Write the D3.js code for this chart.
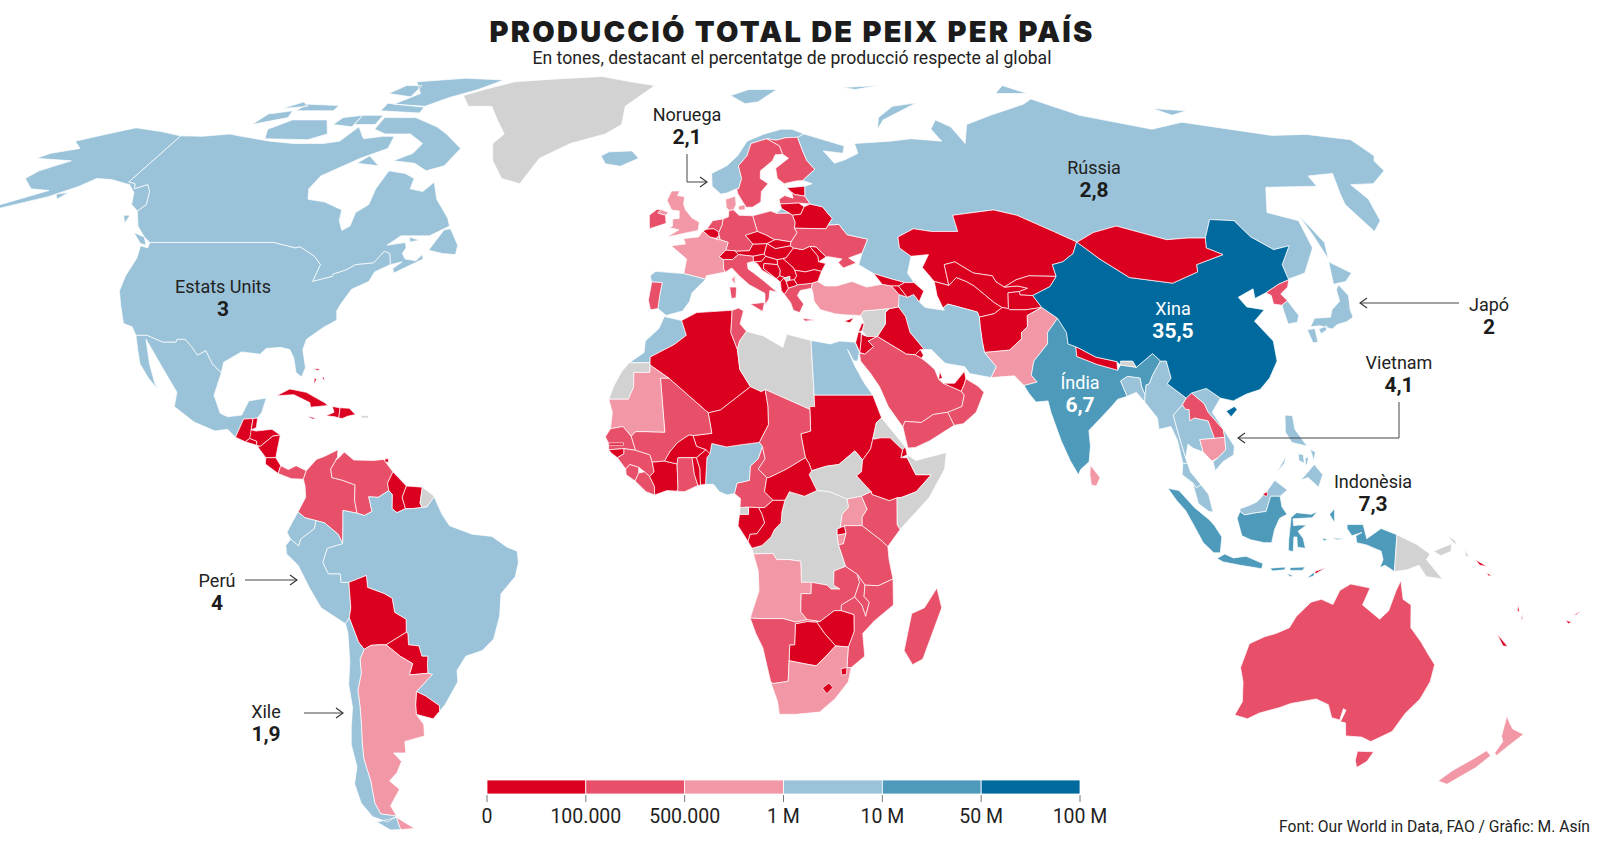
<!DOCTYPE html>
<html lang="ca"><head><meta charset="utf-8"><title>Producció total de peix per país</title>
<script src="https://cdn.jsdelivr.net/npm/d3@7/dist/d3.min.js"></script>
<style>html,body{margin:0;padding:0;background:#fff}svg{display:block}text{font-family:Roboto,"Noto Sans",sans-serif;fill:#222}</style>
</head><body><svg id="c" width="1600" height="843"></svg>
<script>
const legendLabels=["0","100.000","500.000","1 M","10 M","50 M","100 M"];
const binColors=["#dc0020","#e84f68","#f297a5","#9ac3d9","#4e9abb","#006a9e"];
const noDataColor="#d2d2d2";
const noData=["Greenland","Libya","WSahara","Syria","SouthSudan","Eritrea","Somalia","DRC","EqGuinea","Bhutan","PNG","Kosovo","FrGuiana","PuertoRico"];
const bin0=["Guatemala","Belize","ElSalvador","Honduras","Nicaragua","CostaRica","Cuba","Haiti","DomRep","Jamaica","Bahamas","Trinidad","Guyana","Suriname","Bolivia","Paraguay","Uruguay","Belgium","Luxembourg","Estonia","Lithuania","Belarus","Switzerland","Austria","Slovenia","Croatia","Bosnia","Serbia","Montenegro","Albania","Macedonia","Hungary","Slovakia","Czechia","Romania","Bulgaria","Moldova","Georgia","Armenia","Azerbaijan","Kazakhstan","Turkmenistan","Uzbekistan","Kyrgyzstan","Tajikistan","Afghanistan","Mongolia","Nepal","Iraq","Lebanon","Israel","Jordan","Cyprus","Kuwait","Qatar","UAE","Algeria","Niger","Sudan","Ethiopia","Djibouti","Gambia","GuineaBissau","IvoryCoast","BurkinaFaso","Togo","Benin","CAR","Congo","Gabon","Rwanda","Zimbabwe","Botswana","Lesotho","Eswatini","Brunei","EastTimor","Solomon","Vanuatu","NewCaledonia","Fiji"];
const bin1=["Panama","Colombia","Venezuela","Sweden","Finland","Latvia","Poland","Germany","Netherlands","Ireland","Portugal","Italy","Greece","Ukraine","NorthKorea","Laos","Saudi","Oman","Yemen","Tunisia","Mali","Senegal","Guinea","SierraLeone","Liberia","Ghana","Chad","Cameroon","Kenya","Tanzania","Zambia","Malawi","Mozambique","Namibia","Madagascar","Australia"];
const bin2=["Argentina","France","UK","Denmark","Turkey","Pakistan","Cambodia","SriLanka","Mauritania","Uganda","Burundi","Angola","SouthAfrica","NewZealand"];
const bin3=["Canada","USA","Mexico","Ecuador","Peru","Brazil","Chile","Norway","Svalbard","Iceland","Spain","Russia","Iran","Egypt","Morocco","Nigeria","Myanmar","Bangladesh","Thailand","Vietnam","Malaysia","Philippines","SouthKorea","Japan"];
const bin4=["India","Indonesia"];
const bin5=["China"];
const outlines={
Canada:[[-141,69.6,-135,69.5,-128,70,-125,69.6,-115,68.5,-108,68,-100,68,-96,68.5,-94,71.5,-90,69,-85,69.5,-82,69.5,-81.5,67,-87,65,-94,61.5,-94.5,59,-92.5,57,-88,56.5,-82.5,55,-82,53,-80.5,51.2,-79,52,-79,54.5,-77,56,-78,59,-77.5,62.5,-73,62,-70,61,-69.5,59,-66,58.5,-64.5,60.3,-61.5,57,-57,53.5,-56,52,-60,50.2,-66.5,50.2,-69,48.5,-65,49,-64.5,48,-65,47,-64,46,-61.5,45.7,-60.5,46.8,-60,46,-63,44.7,-65.7,43.5,-66.2,44.3,-64.5,45.5,-67,45,-67.8,47,-69.2,47.4,-70.8,45.3,-74.7,45,-76.5,44,-79,43.3,-79,42.9,-83,42,-82.5,45,-84.5,46.5,-88.5,48.2,-89.5,48,-95,49,-123,49,-125,50,-128,52,-130.5,54.8,-130,56,-133,58.5,-135.5,59.8,-137.5,59,-139,60,-141,60.3],
[-128,50.8,-125,50,-123.5,48.5,-125,48.8],[-133,54,-131.5,54,-131.5,52.5],[-59.3,47.6,-57,51.3,-55.6,51.5,-53,48.5,-53,46.8,-56,47],[-125,72,-117,73.5,-118,75,-124,74.3],[-117,69,-105,68.8,-101,70,-105,73,-115,73,-119,71],[-117,75,-106,75,-106,76.2,-116,76.5],[-80,73.5,-72,71.5,-68,70,-62,67,-64,63.5,-68,62.5,-72,64,-78,64.5,-74,66,-73,68,-78,70,-85,70,-89,71,-89,73.5],[-92,75,-80,74.5,-80,75.8,-92,76.7],[-96,72,-90,72,-90,74,-96,74],[-102,72,-96,71.5,-96,74,-101,73.5],[-90,76.5,-80,76,-75,78,-68,80,-62,82.5,-75,83,-90,82,-85,79],[-95,79,-87,78.2,-87,81,-92,81],[-87,64,-81,63.5,-85,65.5],[-64.5,50,-62,49.4,-64,49.1],[-122,75.5,-115,76,-118,77]],
USA:[[-123,49,-95,49,-89.5,48,-88.5,48.2,-84.5,46.5,-82.5,45,-83,42,-79,42.9,-79,43.3,-76.5,44,-74.7,45,-70.8,45.3,-69.2,47.4,-67.8,47,-67,45,-70,43.7,-70.7,42,-74,40.6,-75.5,38,-76,36.8,-75.5,35.2,-78,33.9,-81,31.8,-81.3,30,-80,26.8,-80.5,25.2,-81.8,26,-82.8,28.5,-84,30,-86,30.4,-89,30.2,-90,29.2,-94,29.6,-97.2,27.8,-97.2,25.9,-99.5,27.5,-101.5,29.8,-103,29,-104.7,30.5,-106.5,31.8,-108.2,31.8,-108.2,31.3,-111,31.3,-114.8,32.5,-117.1,32.5,-118.5,34,-120.6,34.6,-122.5,37.5,-124.3,40.3,-124.5,43,-124,46.2,-124.7,48.4,-122.8,48],
[-141,69.6,-148,70.5,-156.5,71.3,-162,70,-168,68.5,-164,67,-170,66,-172,65,-162,64.5,-167,62.5,-168,61,-163,59,-158,58.7,-166,55.5,-171,53.5,-156,57.5,-152,59.5,-150,61,-146,60.8,-140,59.8,-136.5,58.3,-133.5,56,-130.5,54.8,-130,56,-133,58.5,-135.5,59.8,-137.5,59,-139,60,-141,60.3],[-155,58,-152.5,58.3,-153,57]],
Mexico:[[-117.1,32.5,-114.8,32.5,-111,31.3,-108.2,31.3,-108.2,31.8,-106.5,31.8,-104.7,30.5,-103,29,-101.5,29.8,-99.5,27.5,-97.2,25.9,-97.8,22,-95.9,18.8,-94.3,18.2,-91.5,18.5,-90.5,21,-87,21.5,-87.5,19,-88.2,18,-89.1,17.9,-91,17.8,-92.2,14.6,-94,16,-96.5,15.7,-101,17.3,-105.5,20,-105.5,22.5,-109.3,26.5,-112.8,30,-114.7,31.8,-112.5,27.5,-110.5,24.2,-109.5,23,-112,25,-114.5,27.5,-115.8,30]],
Guatemala:[[-92.2,14.6,-91,17.8,-89.1,17.9,-89.2,15.9,-88.2,15.7,-89.3,14.4,-90.1,13.8]],Belize:[[-89.1,17.9,-88.2,18,-88.2,16.3,-89.2,15.9]],ElSalvador:[[-90.1,13.8,-89.3,14.4,-87.8,13.9,-87.8,13.2]],Honduras:[[-89.2,15.9,-88.2,15.7,-85,16,-83.2,15,-84.7,14.8,-87,13,-87.8,13.2,-87.8,13.9,-89.3,14.4]],Nicaragua:[[-83.2,15,-83.7,11,-85.7,11,-87.6,13,-87,13,-84.7,14.8]],CostaRica:[[-85.7,11,-83.7,11,-82.6,9.6,-83,8.2,-85.7,9.9]],Panama:[[-83,8.2,-82.6,9.6,-81,8.9,-79.5,9.6,-77.4,8.7,-77.9,7.2,-80.3,7.3,-81.5,7.7]],
Cuba:[[-85,21.9,-82.5,23.1,-79,22.5,-75,20.7,-74.2,20.2,-77.7,19.9,-78,20.7,-81.5,22.1]],Haiti:[[-74.4,18.4,-72.5,18.2,-71.7,18,-71.7,19.8,-73.3,20,-72.8,19]],DomRep:[[-71.7,18,-71.7,19.8,-69.8,19.7,-68.4,18.6,-70,18.3,-71,17.9]],Jamaica:[[-78.3,18.3,-76.3,18,-77,17.8]],PuertoRico:[[-67.2,18.4,-65.7,18.4,-65.7,18,-67.2,18]],Bahamas:[[-78.5,26.7,-77,26.6,-77.3,26.3],[-77.8,25,-77.3,24.8,-77.7,23.9],[-76,25.3,-75.5,24.5,-76.2,25]],Trinidad:[[-61.8,10.2,-61,10.2,-61,10.8,-61.7,10.8]],
Colombia:[[-77.9,7.2,-77.4,8.7,-75.5,10.7,-74,11.2,-71.3,12.4,-71.3,11,-72.5,9,-72.2,7.5,-70,7,-67.5,6.2,-67.5,3.5,-67,1.2,-69.8,1.7,-69.8,-0.5,-69.9,-4.2,-70.8,-2.5,-73.5,-0.5,-75.2,-0.1,-77.4,0.4,-78.8,1.4,-77.3,4,-77.5,6]],
Venezuela:[[-71.3,11,-71.6,10.6,-71,11,-70,12,-68,10.6,-64,10.5,-62,10.7,-60,8.5,-61,6.5,-60.7,5.2,-62.8,4,-64.7,4.1,-64,1.5,-65.5,0.8,-67,1.2,-67.5,3.5,-67.5,6.2,-70,7,-72.2,7.5,-72.5,9]],
Guyana:[[-60,8.5,-57.2,6,-58,4,-57.3,2,-59,1.3,-60,2,-60,4.5,-60.7,5.2,-61,6.5]],Suriname:[[-57.2,6,-54,5.8,-54.4,3,-54,2.2,-56,2,-57.3,2,-58,4]],FrGuiana:[[-54,5.8,-52,4.5,-51.6,4.1,-53,2.3,-54,2.2,-54.4,3]],
Ecuador:[[-78.8,1.4,-77.4,0.4,-75.2,-0.1,-75.5,-1.5,-78.3,-3.4,-78.7,-4.6,-80.3,-3.4,-81,-2.2,-80,-0.5]],
Peru:[[-81.3,-4.5,-80.3,-3.4,-78.7,-4.6,-78.3,-3.4,-75.5,-1.5,-75.2,-0.1,-73.5,-0.5,-70.8,-2.5,-69.9,-4.2,-73,-5,-74,-7.5,-73,-9.5,-70.6,-9.5,-70.6,-11,-69,-11,-69,-15.5,-69.5,-17.3,-70.4,-18.3,-75,-15.5,-77,-12,-79,-8,-81.2,-6]],
Brazil:[[-51.6,4.1,-50,1,-48.5,-1,-44,-2.5,-40,-2.9,-37,-4.8,-35,-5.5,-34.8,-7.5,-35.5,-10,-38.5,-13,-39,-17,-40.5,-21,-43,-23,-46.5,-24,-48.6,-26.5,-48.7,-28.5,-52,-32.5,-53.4,-33.7,-53.2,-32.7,-55.8,-31,-57.6,-30.2,-53.8,-27.2,-54.7,-27,-54.6,-25.6,-54.3,-24,-55.5,-24,-55.9,-22.2,-58,-22,-57.9,-20,-58.2,-19.8,-58,-17.5,-60.2,-16.3,-60.5,-13.8,-62,-13,-65.3,-11.9,-65.4,-9.8,-69,-11,-70.6,-11,-70.6,-9.5,-73,-9.5,-74,-7.5,-73,-5,-69.9,-4.2,-69.8,-0.5,-69.8,1.7,-67,1.2,-65.5,0.8,-64,1.5,-64.7,4.1,-62.8,4,-60.7,5.2,-60,4.5,-60,2,-59,1.3,-57.3,2,-56,2,-54,2.2,-53,2.3]],
Bolivia:[[-69,-11,-65.4,-9.8,-65.3,-11.9,-62,-13,-60.5,-13.8,-60.2,-16.3,-58,-17.5,-58.2,-19.8,-62.6,-22,-64,-22,-65.7,-22.1,-67.2,-22.8,-68.2,-21.5,-69.5,-17.3,-69,-15.5]],
Paraguay:[[-58.2,-19.8,-57.9,-20,-58,-22,-55.9,-22.2,-55.5,-24,-54.3,-24,-54.6,-25.6,-54.7,-27,-58.6,-27.3,-57.6,-25.3,-60,-24,-62.6,-22]],
Uruguay:[[-57.6,-30.2,-55.8,-31,-53.2,-32.7,-53.4,-33.7,-55,-35,-58.4,-34.2,-58.2,-32.5]],
Argentina:[[-65.7,-22.1,-64,-22,-62.6,-22,-60,-24,-57.6,-25.3,-58.6,-27.3,-54.7,-27,-53.8,-27.2,-57.6,-30.2,-58.2,-32.5,-58.4,-34.2,-57.2,-36,-57.5,-38,-62,-39,-62.3,-41,-65,-41,-63.7,-42.5,-65.3,-44.5,-67.5,-46,-65.8,-47.5,-69,-50.5,-68.4,-52.4,-71.9,-52,-72.4,-50,-71.7,-46,-71.8,-42,-71.2,-39,-70.5,-36,-70,-33,-69.8,-30,-68.5,-27,-68.3,-24.5,-67.2,-22.8],[-68.6,-52.6,-65.2,-54.7,-68.6,-54.9]],
Chile:[[-69.5,-17.3,-68.2,-21.5,-67.2,-22.8,-68.3,-24.5,-68.5,-27,-69.8,-30,-70,-33,-70.5,-36,-71.2,-39,-71.8,-42,-71.7,-46,-72.4,-50,-71.9,-52,-68.4,-52.4,-71,-53.5,-74,-52.5,-75.5,-50,-75.5,-46.5,-73.8,-43.5,-73.7,-39.5,-72.8,-36.5,-71.6,-33,-71.5,-29,-70.5,-25,-70.1,-20,-70.4,-18.3],[-68.6,-52.6,-68.6,-54.9,-71,-55,-73.5,-53.5,-70.5,-53]],
Greenland:[[-71,78.5,-66,80,-58,82,-45,82.8,-30,83.5,-20,82,-12,81,-20,76,-20,72,-24,70,-33,68,-40,65,-43,60,-48,61,-52,64.5,-54,68,-52,70,-56,73,-60,76,-67,76]],
Iceland:[[-24,65.5,-22,66.3,-16,66.5,-14,65,-18.5,63.4,-22.5,63.9]],
Norway:[[7,58,8.5,58.2,11,59,11.5,59,12.5,61,12,63.5,14.5,65.5,16,68,20.5,69,23,68.7,25.7,69.2,29,69.3,31,70,28,71,25,71,20,70,15,68.5,12,65.5,9,63.5,5,62,5,59.5]],Svalbard:[[12,78.5,18,80,27,80,20,77,16,76.6]],
Sweden:[[11,59,11.2,58,12.8,55.5,14.3,55.5,16.5,56.5,17,58.5,19,60,17.2,61,17.5,62.5,21,64.5,22,65.7,24,65.8,23.6,67.5,20.5,69,16,68,14.5,65.5,12,63.5,12.5,61,11.5,59]],
Finland:[[24,65.8,25.3,65,21.5,63,21.5,61,23,60,26,60.5,27.8,60.6,31.5,62.8,30,64.5,29.5,66.5,29,69.3,25.7,69.2,23,68.7,20.5,69,23.6,67.5]],
Denmark:[[8.1,57,10.5,57.6,10.5,56,9.8,55,8.7,54.9,8.1,55.5],[11,55.7,12.6,56,12.5,55,11,55]],
Estonia:[[23.5,59.2,28,59.5,27.4,57.6,25,57.9,24.4,58.3]],Latvia:[[21,57,22.5,57.7,24.4,57.2,24.4,58.3,25,57.9,27.4,57.6,28.2,56.1,25.5,56.3,21,56.1]],Lithuania:[[21,56.1,25.5,56.3,26.6,55.6,25.5,54.2,23.5,54,22.8,54.4,21.2,55.2]],
Belarus:[[23.5,54,25.5,54.2,26.6,55.6,28.2,56.1,30.9,55.6,32.7,53.4,31.5,52.2,30.9,51.5,23.6,51.6,23.9,52.7]],
Poland:[[14.2,53.9,18.5,54.8,19.7,54.4,22.8,54.4,23.5,54,23.9,52.7,23.6,51.6,24.1,50.8,22.5,49.1,19.5,49.5,18.8,49.5,16.8,50.4,15,51,14.7,52]],
Germany:[[8.7,54.9,9.8,55,11,54,14.2,53.9,14.7,52,15,51,12.2,50.3,13.8,48.7,12.9,47.5,10,47.4,9.6,47.5,7.6,47.6,8.2,49,6.4,49.5,6.1,50.8,7,52.3,7.2,53.3,8.5,53.7]],
Netherlands:[[3.4,51.4,4.8,53,7.2,53.3,7,52.3,6.1,50.8,5.8,51.1,5,51.5]],Belgium:[[2.5,51.1,3.4,51.4,5,51.5,5.8,51.1,6.1,50.8,6.1,49.8,5,49.8,4,50]],Luxembourg:[[5.8,50.1,6.4,49.5,5.8,49.5]],
France:[[2.5,51.1,4,50,5,49.8,5.8,49.5,6.4,49.5,8.2,49,7.6,47.6,6.1,46.4,7,45.9,7,44.2,7.4,43.7,3.1,43,3,42.4,-1.8,43.4,-1.2,46,-4.7,48.4,-1.5,48.7,-1.9,49.7,1.5,50],[8.6,42.4,9.5,43,9.4,41.4]],
Switzerland:[[6.1,46.4,7.6,47.6,9.6,47.5,10.4,46.8,9,45.9,7,45.9]],Austria:[[9.6,47.5,10,47.4,12.9,47.5,13.8,48.7,17,48.8,16.2,46.9,13.7,46.5,10.4,46.8]],
Italy:[[7,45.9,9,45.9,10.4,46.8,13.7,46.5,13.7,45.6,12.3,45.3,12.4,44.2,13.6,43.5,16,41.9,18.5,40.1,16.9,40.4,16.6,38.9,15.7,37.9,15.8,39.9,12.5,41.4,10.5,42.9,8.8,44.4,7.4,43.7,7,44.2],[12.5,38,15.6,38.3,15.1,36.7],[8.2,41,9.7,41,9.5,39.1,8.5,39]],
Slovenia:[[13.7,46.5,16.2,46.9,16.5,46.5,15.5,45.6,13.7,45.5]],Croatia:[[13.7,45.5,15.5,45.6,16.5,46.5,19,45.9,19,45,16,45.2,15.8,44.3,18.5,42.5,15.5,44,14.5,45.2]],Bosnia:[[16,45.2,19,45,19.5,44,19.3,43,18.5,42.5,15.8,44.3]],
Serbia:[[19,45.9,20.3,46.1,22.4,44.5,22.7,44,23,43,22.4,42.3,21.4,42.2,21.5,42.9,20.1,42.6,20.3,42.7,19.3,43,19.5,44,19,45]],Montenegro:[[18.5,42.5,19.3,43,20.3,42.7,19.3,41.9]],Kosovo:[[20.1,42.6,21.5,42.9,21.4,42.2,20.6,42]],Albania:[[19.3,41.9,20.1,42.6,20.6,42,21,40.8,20,39.7,19.4,40.4]],Macedonia:[[20.6,42,21.4,42.2,22.4,42.3,23,41.4,22.9,41.3,21,40.8]],
Greece:[[20,39.7,21,40.8,22.9,41.3,23,41.4,26.3,41.7,26,40.8,23.5,40.4,22.8,39.5,24,38,23,36.5,21.7,36.9,21.2,38.3],[23.5,35.5,26.3,35.2,24,35]],
Hungary:[[16.2,46.9,17,48.8,18.8,47.9,22.2,48.4,22.9,48,21,46.2,20.3,46.1,19,45.9,16.5,46.5]],Slovakia:[[17,48.8,18.8,49.5,19.5,49.5,22.5,49.1,22.2,48.4,18.8,47.9]],Czechia:[[12.2,50.3,15,51,16.8,50.4,18.8,49.5,17,48.8,13.8,48.7]],
Romania:[[22.9,48,24.9,47.7,26.6,48.3,28.2,46.5,28.2,45.5,29.7,45.2,28.6,43.8,27,44.1,25,43.7,22.7,44,22.4,44.5,20.3,46.1,21,46.2]],Bulgaria:[[22.7,44,25,43.7,27,44.1,28.6,43.8,27.5,42,26.3,41.7,23,41.4,22.4,42.3,23,43]],Moldova:[[26.6,48.3,28.2,46.5,28.2,45.5,30,46.4,28,48.2]],
Ukraine:[[24.1,50.8,23.6,51.6,30.9,51.5,31.5,52.2,34,52.3,35.5,50.4,40,49.6,38.2,47.1,35,46.2,36.5,45.3,33.5,44.4,32.5,45.4,33.5,46,30.7,46.4,30,46.4,28,48.2,26.6,48.3,24.9,47.7,22.9,48,22.2,48.4,22.5,49.1]],
UK:[[-5.7,50,1.4,51.2,1.7,52.7,0,53.5,-1.5,55,-2,56,-1.8,57.5,-3.5,57.7,-3,58.6,-5,58.6,-6,56.8,-4.8,55,-3,54.8,-3,53.4,-4.5,53.3,-4.5,52,-5.2,51.7,-3,51.3],[-7.3,55.1,-5.5,54.5,-6.2,54,-8,54.4]],Ireland:[[-8,54.4,-6.2,54,-6,52.5,-9.8,51.5,-10,54,-8.3,55.1,-7.3,55.1]],
Spain:[[-1.8,43.4,3,42.4,0,40,-0.5,38.5,-2,36.8,-5.5,36,-7.3,37.2,-7,39.5,-6.5,41.8,-8.8,41.9,-9.2,43,-8,43.8]],Portugal:[[-8.8,41.9,-6.5,41.8,-7,39.5,-7.3,37.2,-8.9,37,-9.4,38.7]],
Russia:[[31,70,33,69.5,41,67.5,40,66,35,66.5,37,64,40,64.7,44,66,44,68,54,68.5,60,69,68,68.5,67,71,70,73,73,71.5,74,68,78,72,87,74,100,76.5,104,77.7,113,74,129,71,140,72.5,160,69.7,170,69.9,180,68.8,179.9,65.5,178,64.5,177,62.5,170,60,164,59.8,163,57,160,53,156.7,51,155.6,56,158,58,163,62,156,61.5,155,59.5,142,59.3,135,54.5,141,53,140,48,135,43.5,131,42.5,130.7,42.3,131,45,135,48.4,131,47.7,127.5,50,126,53,120.5,53.2,117,49.8,113,49.8,108,49.5,98,52,92,50.8,87.8,49.2,87.3,49.1,83,51,76,54,71,55,61,54,61,51,55,51,51,51.5,47,50,46.8,48,49,46.5,47.5,43.5,48.5,41.8,46.5,41.8,43.5,42.5,40,43.4,37,45,38.2,47.1,40,49.6,35.5,50.4,34,52.3,31.5,52.2,32.7,53.4,30.9,55.6,28.2,56.1,27.4,57.6,28,59.5,30,60,27.8,60.6,31.5,62.8,30,64.5,29.5,66.5,29,69.3],[19.7,54.4,22.8,54.4,21.2,55.2],[142,54,143.5,49,142,46,142,50],[52,71,55,73,68,76.8,60,76,54,73.5],[137,75.5,146,75,140,74],[95,79,105,79,100,81],[48,80.5,60,81,52,80]],
Kazakhstan:[[46.8,48,47,50,51,51.5,55,51,61,51,61,54,71,55,76,54,83,51,87.3,49.1,85.5,47,82.5,45.5,80,45,80,42.9,74,43,71,42.3,68,41,66.5,41.9,66,43,62,43.5,58.5,45.5,56,45,56,41.3,53,42,51,44.5,53,46.8,49,46.5]],
Turkmenistan:[[53,42,56,41.3,58,42.7,60,42,61.5,41.2,65,38.3,66.5,37.4,64.5,36.3,61.2,35.7,61,36.6,55,38,53.8,37.3,53,39.5]],Uzbekistan:[[56,41.3,56,45,58.5,45.5,62,43.5,66,43,66.5,41.9,68,41,71,41.2,73,40.8,71,40.2,68.5,40,67.8,37.2,66.5,37.4,65,38.3,61.5,41.2,60,42,58,42.7]],Kyrgyzstan:[[71,42.3,74,43,80,42.9,78,41.1,73.7,39.5,71,39.6,71,40.2,73,40.8,71,41.2,68,41]],Tajikistan:[[68.5,40,71,40.2,71,39.6,73.7,39.5,75,37.4,71.5,37,68,37,67.8,37.2]],
Afghanistan:[[61.2,35.7,64.5,36.3,66.5,37.4,67.8,37.2,68,37,71.5,37,75,37.4,71.5,36,71,34,69.5,33,69.3,31.9,66.3,29.9,61,29.5,60.9,31.5,61,34]],
Pakistan:[[61,29.5,66.3,29.9,69.3,31.9,69.5,33,71,34,71.5,36,75,37.4,77.8,35.5,75,33,74.5,31,71,28,70,25.5,71,24.3,68.2,23.7,66.5,25.4,61.6,25.1,63,27]],
India:[[77.8,35.5,79,33,78.8,31,80.3,30.5,80.1,28.8,84,27.4,88,26.4,88.8,27.3,92,26.9,96,29.3,97.3,28,95,25.5,94,24,93.3,23.8,92.7,22,92.3,23.5,92.3,25,89.8,25.3,88.2,24.5,89,21.8,87,21.3,85,19.6,80.3,15.8,80.3,13,79.8,10.3,78,8.9,77.5,8,76,10.5,74.5,14,73,19,72.7,21,70.2,20.8,69,22.3,68.2,23.7,71,24.3,70,25.5,71,28,74.5,31,75,33]],
Nepal:[[80.3,30.5,81.2,30.1,84,28.7,88.2,27.9,88,26.4,84,27.4,80.1,28.8]],Bhutan:[[88.8,27.3,89,28,91.5,28,92,26.9]],Bangladesh:[[88.2,24.5,89.8,25.3,92.3,25,92.3,23.5,92.7,22,92.4,20.8,91,22.5,89,21.8]],
Myanmar:[[92.4,20.8,92.7,22,93.3,23.8,94,24,95,25.5,97.3,28,98.5,28,98.7,25,97.7,24,101,21.5,100,20.3,97.8,18.5,98.3,15.3,99,12,99.6,10,98.6,10,98,14,97,16.5,94.5,16,94.5,18]],
Thailand:[[97.8,18.5,100,20.3,100.5,19.5,101.2,19.5,101,17.5,102,18,104.7,17.5,105.5,14.4,102.5,14.2,102.9,12,100.9,12.7,100,13.4,99.3,11,100,8.5,102,6.2,101,5.7,100.3,6.6,98.3,8,98.6,10,99.6,10,99,12,98.3,15.3]],
Laos:[[100.5,19.5,100,20.3,101,21.5,102.3,22.4,104.5,20.5,105,19,107.5,16,107.6,14.6,105.5,14.4,104.7,17.5,102,18,101,17.5,101.2,19.5]],Cambodia:[[102.5,14.2,105.5,14.4,107.6,14.6,107.5,12.4,105.8,11,104.5,10.4,102.9,12]],
Vietnam:[[102.3,22.4,105.5,23.2,108,21.5,105.8,19,107,17,109.3,13,109,11.5,106.7,10.3,105,8.7,104.7,10.3,105.8,11,107.5,12.4,107.6,14.6,107.5,16,105,19,104.5,20.5]],
China:[[73.7,39.5,78,41.1,80,42.9,80,45,82.5,45.5,85.5,47,87.3,49.1,91,46,96,42.7,105,41.7,111.5,43.7,112,45,119,46.8,116,48,117,49.8,120.5,53.2,126,53,127.5,50,131,47.7,135,48.4,131,45,130.7,42.3,128,41.5,124.4,40,121.5,39,122,40.7,118,39.2,119,37.5,122.5,37,119.5,35,122,31.5,121.5,28,119,25,116.5,23,113.5,22.2,110.5,21,108,21.5,105.5,23.2,102.3,22.4,101,21.5,97.7,24,98.7,25,98.5,28,97.3,28,96,29.3,92,26.9,91.5,28,89,28,88.8,27.3,88.2,27.9,84,28.7,81.2,30.1,80.3,30.5,78.8,31,79,33,77.8,35.5,75,37.4],[108.7,19.2,110.5,20,111,19.5,109.5,18.2]],
Mongolia:[[87.8,49.2,92,50.8,98,52,108,49.5,113,49.8,117,49.8,116,48,119,46.8,112,45,111.5,43.7,105,41.7,96,42.7,91,46,87.3,49.1]],
NorthKorea:[[124.4,40,128,41.5,130.7,42.3,129.7,41,127.5,39.8,128.3,38.6,126.7,37.8,125,38,125.3,39.5]],SouthKorea:[[126.7,37.8,128.3,38.6,129.4,36,128.5,34.8,126.4,34.5,126.6,37]],
Japan:[[130.9,34,132.5,35.5,136,35.7,137,37,139.5,38.5,140,40.5,141,41.4,142,39.5,140.9,37,140.8,35.7,139,34.9,136.8,34.4,135.3,33.6,133,34.2],[140,41.5,141.7,45.5,145.3,43.5,143,42],[130,33.5,131.7,33.7,131.3,31.3,130.2,31.2],[132.5,33.6,134.5,34.2,134,33.4,132.6,32.8]],
Philippines:[[120.5,18.5,122,18.4,122,16,124,13,121,13.7,120,15.5],[122,7,125,9.8,126.5,8,125.5,5.8,123.5,7.5],[122,11.7,123,11.5,123,10,122,10.5],[124.5,12.5,125.5,12,125,10.5],[117.3,8.4,119.5,11.3,119,10],[123.3,11,124,11,123.6,10,123.2,9.5]],
Malaysia:[[100.3,6.6,101,5.7,102,6.2,103.4,4.5,104.2,1.4,103.4,1.5,101.3,2.9],[109.6,2,111.3,2.5,113,3.2,115,5,116.8,7,119.2,5.3,117.7,4.2,115.8,4.2,114.8,1.5,113,1.3,110.5,0.9,109.6,1.5]],Brunei:[[114.2,4.6,115.3,5,115,4.1]],
Indonesia:[[109.6,1.5,110.5,0.9,113,1.3,114.8,1.5,115.8,4.2,117.7,4.2,118,2.3,119,1,117.5,0.3,116.5,-1.7,116,-4,114.5,-4,111.8,-3.5,110,-2.8,109,0.3],[95.3,5.6,97.5,5.2,100.5,2.2,103.5,0,104.5,-1,106,-3,105.8,-5.8,104.5,-5.8,102.3,-4,100.4,-1,98.7,1.7,97,3.4],[105.2,-6.8,106.7,-6,108.5,-6.7,111,-6.4,114.5,-7.7,114.3,-8.6,110,-8,106.5,-7.4],[116,-8.5,119,-8.3,119,-8.8,116.5,-9],[120,-8.4,123,-8.3,122.5,-8.9,120,-8.9],[119.5,-9.4,120.8,-9.9,120.1,-10],[123.5,-10.3,125,-9.1,124.9,-9.9],[119.4,-5.4,120.4,-5.6,120.4,-3,121,-3,121.2,-4.8,122.8,-5,122.3,-3.3,121.2,-2,122.9,-0.9,121.3,-0.9,120.3,-1,120.2,0.2,124,0.4,125.1,1.5,123.8,1,120.9,1.3,119.8,0.5,119.4,-3.4],[127.5,1,128.5,2,128.5,-0.5,128,0.2],[128,-3.2,130.8,-3.3,129,-3.5],[126,-3.2,127.2,-3.4,126.5,-3.7],[131,-0.8,134.2,-0.8,135,-3.3,137.8,-1.5,141,-2.6,141,-9.1,139,-8,138,-8.4,138.5,-7,138,-5.5,135,-4.4,133,-4,132.8,-2.8,134,-2.2,132,-2.8,131,-1.5]],
EastTimor:[[125,-9.1,127.3,-8.4,125.2,-9.5]],
PNG:[[141,-2.6,145,-4.3,147.8,-6,147.2,-7,150.8,-10.4,147.5,-10,145.8,-8,143.5,-8.8,141,-9.1],[148.5,-5.5,152,-4.2,152,-5.5,150,-6.3],[151,-2.7,153,-4.5,152.7,-3.6],[154.7,-5.2,155.8,-6.6,155,-6.3]],
Solomon:[[157,-7,159.5,-8.2,158,-8],[160,-8.5,161,-9.8,160.5,-9.2],[159.5,-9.3,160.6,-9.8,160,-9.9]],Vanuatu:[[167,-15,167.5,-16.2,167,-16],[168.2,-16.5,168.5,-17.5,168.2,-17.5]],NewCaledonia:[[164,-20,167,-22.3,166,-22.2]],Fiji:[[177.3,-17.7,178.6,-18,178,-18.3],[178.6,-16.8,179.9,-16,179.2,-16.7]],
SriLanka:[[80,9.7,81.8,7.5,81,6,80,6.2,79.8,8]],
Iran:[[44.5,39.7,44.8,39.7,46.5,39.2,48,39.7,48.9,38.4,50,37.4,54,36.9,53.8,37.3,55,38,61,36.6,61.2,35.7,61,34,60.9,31.5,61,29.5,63,27,61.6,25.1,57.3,25.8,56.5,27,52.5,27.6,50,30,48.5,30,47.7,31,46,33,45.5,35.8,44.3,37.5]],
Iraq:[[42.3,37.2,44.3,37.5,45.5,35.8,46,33,47.7,31,48.5,30,47.7,30,46.5,29.1,44.7,29.2,39,32.3,41,34.5,41.3,36.5]],Syria:[[36,36,36.7,36.8,42.3,37.2,41.3,36.5,41,34.5,39,32.3,36.8,32.3,35.9,33.3,36.5,34.6]],
Turkey:[[26.3,41.7,27.5,42,29,41.2,31.5,41.2,35,42,38,41,41.5,41.5,43.5,41.2,44.8,39.7,44.3,37.5,42.3,37.2,36.7,36.8,36,36,32.5,36.1,30.5,36.3,27.5,37,26.3,38.5,26.2,40,26,40.8]],
Georgia:[[40,43.4,43.5,42.5,46.5,41.8,45,41.2,43.5,41.2,41.5,41.5]],Armenia:[[43.5,41.2,45,41.2,46.5,39.2,44.8,39.7]],Azerbaijan:[[45,41.2,46.5,41.8,48.5,41.8,50.3,40.3,48.9,38.4,48,39.7,46.5,39.2]],
Lebanon:[[35.1,33.1,35.9,33.3,36.5,34.6,36,34.6]],Israel:[[34.3,31.2,35.1,33.1,35.7,33,35.5,31.5,35,29.5]],Jordan:[[35,29.5,35.5,31.5,35.7,32.7,36.8,32.3,39,32.3,37,31.5,38,30.5,36,29.2]],Cyprus:[[32.3,35,34.5,35.6,33.5,34.7]],
Saudi:[[34.9,29.4,36,29.2,38,30.5,37,31.5,39,32.3,44.7,29.2,46.5,29.1,47.7,28.5,48.8,27.7,50.2,26.5,50.8,24.8,51.6,24.1,55.2,22.7,55.7,22,55,20,52,19,49,18.6,46.5,17.2,43.2,17.4,42.7,16.4,40,20,38.5,23.5,36.8,25.9,35,28]],Kuwait:[[46.5,29.1,47.7,30,48.2,29,47.7,28.5]],Qatar:[[50.8,24.8,51.2,26.2,51.6,25]],UAE:[[51.6,24.1,54,24.1,56.3,26.2,56.4,24.9,56,24,55.2,22.7]],Oman:[[55.2,22.7,56,24,56.4,24.9,58.7,23.6,59.8,22.5,57.8,19,55,17,53.1,16.7,52,19,55,20,55.7,22]],Yemen:[[42.7,16.4,43.2,17.4,46.5,17.2,49,18.6,52,19,53.1,16.7,48,14,45,12.8,43.5,12.7]],
Morocco:[[-5.9,35.8,-2.2,35.1,-1.2,32.5,-3.7,30.9,-8.7,28.7,-8.7,27.7,-13,27.7,-10,29.5,-9.8,31.5,-7,33.7]],WSahara:[[-13,27.7,-8.7,27.7,-8.7,26,-12,26,-12,23.4,-13,21.3,-17,21.3,-16,23.7,-14.5,26.2]],
Algeria:[[-2.2,35.1,1,36.5,8.6,36.9,8.2,33,9.5,30,9.9,26.5,12,23.5,5.8,19.4,3.3,18.9,-4.8,25,-8.7,27.3,-8.7,28.7,-3.7,30.9,-1.2,32.5]],Tunisia:[[8.6,36.9,10,37.3,11,36.8,10.2,34.5,11.5,33.2,10,31.5,9.5,30,8.2,33]],
Libya:[[11.5,33.2,15,32.4,19,30.4,20,32.7,25,31.6,25,20,24,20,24,19.5,15,23,14.2,22.6,12,23.5,9.9,26.5,9.5,30,10,31.5]],
Egypt:[[25,31.6,29,31,31,31.5,34.2,31.3,34.9,29.5,34.4,28,33.6,28,32.5,30,33.8,27,35.5,24,37,22,25,22]],
Sudan:[[25,22,37,22,38.5,18,37.4,17.2,36.5,14.3,36,12.6,34.3,10.6,32.8,12.2,29.5,9.8,27,9.5,24,8.7,23.5,10,22.8,11,22.4,13,22,15.2,24,15.7,24,19.5,24,20,25,20]],
SouthSudan:[[24,8.7,27,9.5,29.5,9.8,32.8,12.2,34.3,10.6,34,8.5,33,7.8,35.9,5,33.9,4.2,31,3.7,27.5,5,25,5.2,23.5,8]],Eritrea:[[36.5,14.3,37.4,17.2,38.5,18,43,12.9,42.4,12.4,40,14.5,38,14.5,37,14.3]],Djibouti:[[42.4,12.4,43,12.9,43.3,11.5,42,11]],
Ethiopia:[[36,12.6,36.5,14.3,37,14.3,38,14.5,40,14.5,42.4,12.4,42,11,43.3,11,44.9,8,48,8,44.9,5,42,4,41,3.9,39.5,3.4,36,4.5,35.9,5,33,7.8,34,8.5,34.3,10.6]],Somalia:[[43.3,11,43.3,11.5,45,10.5,51.2,11.9,50.7,9,47.5,4,41.6,-1.7,41,-0.8,41,3.9,42,4,44.9,5,48,8,44.9,8]],
Kenya:[[33.9,4.2,35.9,5,36,4.5,39.5,3.4,41,3.9,41,-0.8,41.6,-1.7,39.2,-4.7,37.7,-3.5,34,-1,34,0.5,35,1.9]],Uganda:[[31,3.7,33.9,4.2,35,1.9,34,0.5,34,-1,30.5,-1,29.6,-1.4,30,1,31.3,2.3]],Rwanda:[[29,-1.5,30.5,-1.1,30.8,-2.4,29,-2.7]],Burundi:[[29,-2.7,30.8,-2.4,30.3,-4.2,29.3,-4.4]],
Tanzania:[[30.5,-1,34,-1,37.7,-3.5,39.2,-4.7,39.5,-7,40.4,-10.4,37.5,-11.6,34.8,-11.5,33.2,-9.6,30.8,-8.2,29.3,-4.4,30.3,-4.2,30.8,-2.4]],
DRC:[[18.6,3.5,19.5,5,22.5,4.2,25,5.2,27.5,5,31,3.7,31.3,2.3,30,1,29.6,-1.4,29,-1.5,29,-2.7,29.3,-4.4,30.8,-8.2,28.5,-9,28.5,-11.5,29.8,-12.2,28,-12.2,27.2,-11.5,24,-11,22,-11,21.8,-7.3,19.5,-7,17,-7,16.2,-5.9,12.3,-6,12,-5,14,-4.5,15.8,-3,16.5,-1.7,17.8,-0.5,18,1.5]],
Congo:[[11.2,-3.8,12,-5,14,-4.5,15.8,-3,16.5,-1.7,17.8,-0.5,18,1.5,18.6,3.5,16.2,3.5,14.5,2.2,13.3,2.2,14,1,14.5,-0.5,13,-2.4,11.6,-2.5]],Gabon:[[9.5,1,11.3,1,11.3,2.3,13.3,2.2,14,1,14.5,-0.5,13,-2.4,11.6,-2.5,11.2,-3.8,9.2,-1]],EqGuinea:[[9.6,2.2,11.3,2.3,11.3,1,9.5,1]],
Cameroon:[[8.5,4.7,9,6.5,11.5,7,11.7,9.5,13.3,10.8,14.2,13,14.7,10.8,13.3,9,15,7.5,14.5,5,16.2,3.5,14.5,2.2,13.3,2.2,11.3,2.3,9.6,2.2,9.7,3.8]],
Nigeria:[[2.7,6.3,3,11,3.6,11.7,4,13.5,7,12.9,10,13.3,13.6,13.7,14.2,13,13.3,10.8,11.7,9.5,11.5,7,9,6.5,8.5,4.7,7,4.4,5.5,5,4.3,6.3]],
Niger:[[3.3,18.9,5.8,19.4,12,23.5,14.2,22.6,15,23,15.5,20,15.5,16.8,13.6,13.7,10,13.3,7,12.9,4,13.5,3.6,11.7,2.8,12.4,0.9,13,0.2,14.9,4,15.3]],
Chad:[[15,23,24,19.5,24,15.7,22,15.2,22.4,13,22.8,11,19,9,15.5,7.5,15,7.5,13.3,9,14.7,10.8,14.2,13,13.6,13.7,15.5,16.8,15.5,20]],CAR:[[14.5,5,15,7.5,15.5,7.5,19,9,22.8,11,23.5,10,24,8.7,23.5,8,25,5.2,22.5,4.2,19.5,5,18.6,3.5,16.2,3.5]],
Mali:[[-12.3,14.8,-11.4,15.6,-9.4,15.6,-5.5,15.5,-6.5,25,-4.8,25,3.3,18.9,4,15.3,0.2,14.9,-0.6,15,-2,14.2,-3,13.6,-4.5,12,-5.5,10.4,-8,10.2,-8.5,11.5,-11.4,12.3]],
Mauritania:[[-17,21.3,-13,21.3,-12,23.4,-12,26,-8.7,26,-8.7,27.3,-4.8,25,-6.5,25,-5.5,15.5,-9.4,15.6,-11.4,15.6,-12.3,14.8,-14,16.5,-16.5,16.1,-16.2,19]],
Senegal:[[-16.5,16.1,-14,16.5,-12.3,14.8,-11.4,12.3,-13.7,12.6,-16.8,12.4,-16.8,13.5,-17.5,14.7]],Gambia:[[-16.8,13.6,-13.8,13.6,-13.8,13.2,-16.8,13.2]],GuineaBissau:[[-16.8,12.4,-13.7,12.6,-13.7,11.7,-15,11,-16.2,11.8]],
Guinea:[[-15,11,-13.7,11.7,-13.7,12.6,-11.4,12.3,-8.5,11.5,-8,10.2,-7.6,8.5,-8.5,7.7,-9.5,8.5,-10.7,9.3,-12.5,9.8,-13.3,9]],SierraLeone:[[-13.3,9,-12.5,9.8,-10.7,9.3,-10.7,8.3,-11.4,6.9,-13.2,8]],Liberia:[[-11.4,6.9,-10.7,8.3,-9.5,8.5,-8.5,7.7,-7.5,5.9,-7.5,4.4,-9.2,5]],
IvoryCoast:[[-7.5,4.4,-7.5,5.9,-8.5,7.7,-7.6,8.5,-8,10.2,-5.5,10.4,-3,9.9,-2.8,5.6,-3,5.1,-5,5.2]],BurkinaFaso:[[-5.5,10.4,-4.5,12,-3,13.6,-2,14.2,-0.6,15,0.2,14.9,0.9,13,2.8,12.4,0.9,11,-2.8,11,-3,9.9]],
Ghana:[[-3,5.1,-2.8,5.6,-3,9.9,-2.8,11,0,11,0.5,8,1.2,6.1,-1.5,5]],Togo:[[0,11,0.9,11,1.6,9,1.7,6.2,1.2,6.1,0.5,8]],Benin:[[0.9,11,2.8,12.4,3.6,11.7,3,11,2.7,6.3,1.7,6.2,1.6,9]],
Angola:[[12.3,-6,16.2,-5.9,17,-7,19.5,-7,21.8,-7.3,22,-11,24,-11,24,-13,22,-13,22,-16.2,23.4,-17.6,21,-18,18.5,-17.4,14,-17.4,11.8,-17.3,13.5,-12.5,13.3,-9]],
Zambia:[[22,-13,24,-13,24,-11,27.2,-11.5,28,-12.2,29.8,-12.2,28.5,-11.5,28.5,-9,30.8,-8.2,33.2,-9.6,33.7,-11,32.8,-13.6,30.2,-15,30.2,-16,28.8,-16,26,-17.9,25.3,-17.8,23.4,-17.6,22,-16.2]],
Malawi:[[33.2,-9.6,34.8,-11.5,34.7,-13.5,35.8,-14.5,35.2,-17,34.3,-15,32.8,-13.6,33.7,-11]],Mozambique:[[34.8,-11.5,37.5,-11.6,40.4,-10.4,40.7,-15,37,-17.8,34.8,-20,35.5,-24,32.9,-26,32,-26,32,-22.4,33,-19.7,32.8,-16.7,30.2,-16,30.2,-15,32.8,-13.6,34.3,-15,35.2,-17,35.8,-14.5,34.7,-13.5]],
Zimbabwe:[[26,-17.9,28.8,-16,30.2,-16,32.8,-16.7,33,-19.7,32,-22.4,29.4,-22.2,27,-20,25.3,-18]],Botswana:[[21,-18.3,23.4,-17.9,25.3,-18,27,-20,29.4,-22.2,26.8,-24.7,25.6,-25.7,23,-25.3,20,-24.8,20,-22,21,-22]],
Namibia:[[11.8,-17.3,14,-17.4,18.5,-17.4,21,-18,23.4,-17.6,25.3,-17.8,25.3,-18,23.4,-17.9,21,-18.3,21,-22,20,-22,20,-28.4,17,-28.8,16.4,-28.6,14.5,-22.5,13,-20]],
SouthAfrica:[[16.4,-28.6,17,-28.8,20,-28.4,20,-24.8,23,-25.3,25.6,-25.7,26.8,-24.7,29.4,-22.2,32,-22.4,32,-26,32.9,-26,32.5,-28.5,30,-31.5,27,-33.8,22,-34.2,18.5,-34.2,18,-32]],Lesotho:[[27.2,-29.6,28.5,-28.7,29.4,-29.5,28.2,-30.6]],Eswatini:[[30.8,-26.2,32,-26,32,-27.2,31,-27.3]],
Madagascar:[[49.3,-12,50.5,-15.5,47.5,-24.5,45.5,-25.5,43.5,-23,44.5,-16.5,47,-15.5]],
Australia:[[114,-21.8,116.8,-20.6,119,-20,121.5,-19,122.5,-17,125,-14.5,127,-14,129.5,-14.9,130.5,-12.4,132.5,-11.3,136.5,-12,135.5,-15,139.5,-17.5,141,-16,141.8,-12.5,142.5,-10.7,143.5,-14,145.3,-15,146.2,-19,149,-21.5,151,-23.5,153.2,-25.5,153.5,-28.5,152.8,-31.5,151,-34,150,-37.2,146.5,-39,144,-38.2,140.5,-38,139.2,-35.7,138,-35.5,138.2,-33.5,137.5,-33.2,137.7,-35.2,135.8,-34.8,134,-32.5,131,-31.5,126,-32.3,124,-33,120,-34,118,-35,115,-34.3,115.7,-32,114.6,-28.5,113.3,-26],[144.7,-40.7,148.3,-40.8,148,-42.5,146.5,-43.6,145.3,-42.3]],
NewZealand:[[172.8,-34.5,174.5,-36,175.6,-36.8,178.5,-37.7,177,-39.5,175.5,-41.5,174.8,-41,175,-39,174,-38],[172.7,-40.6,174.3,-41.5,172.8,-43.6,171,-45,169,-46.6,166.5,-46,168,-44.2,171,-42]]
};
const labelNames=["Noruega","Rússia","Estats Units","Xina","Índia","Japó","Vietnam","Indonèsia","Perú","Xile"];
const labelValues=["2,1","2,8","3","35,5","6,7","2","4,1","7,3","4","1,9"];
const labelLight=["Xina","Índia"];
const labelAnchors=[[687,115],[1094,168],[223,287],[1173,309],[1080,383],[1489,305],[1399,363],[1373,482],[217,581],[266,712]];
const leaderPaths=[[[687,154],[687,182],[707,182]],[[1459,303],[1360,303]],[[1399,402],[1399,438],[1238,438]],[[245,580],[297,580]],[[304,713],[343,713]]];

const svg=d3.select("#c");
const cx=692;
const projection=d3.geoNaturalEarth1().scale(322).translate([cx,520]);
const widen=d3.scaleLinear().domain([-60,55,60,70,80]).range([1.022,1.022,1.0,0.98,0.95]).clamp(true);
const path=d3.geoPath(d3.geoTransform({point(x,y){const p=projection([x,y]);this.stream.point(cx+(p[0]-cx)*widen(y),p[1]);}}));
const colorOf=new Map();
[bin0,bin1,bin2,bin3,bin4,bin5].forEach((b,i)=>b.forEach(n=>colorOf.set(n,binColors[i])));
noData.forEach(n=>colorOf.set(n,noDataColor));
const pairs=r=>{const o=[];for(let i=0;i<r.length;i+=2)o.push([r[i],r[i+1]]);o.push(o[0]);return o;};
const features=Object.keys(outlines).map(n=>({type:"Feature",properties:{name:n},geometry:{type:"MultiPolygon",coordinates:outlines[n].map(r=>[pairs(r)])}}));
svg.append("g").selectAll("path").data(features).join("path").attr("d",path).attr("fill",d=>colorOf.get(d.properties.name)||noDataColor).attr("stroke","#fff").attr("stroke-width",0.7).attr("stroke-linejoin","round");

svg.append("text").attr("x",792).attr("y",42).attr("text-anchor","middle").style("font-family","Inter").style("font-weight",900).style("font-size","29px").style("letter-spacing","2.25px").style("fill","#1c1c1c").text("PRODUCCIÓ TOTAL DE PEIX PER PAÍS");
svg.append("text").attr("x",792).attr("y",64).attr("text-anchor","middle").style("font-size","17.64px").text("En tones, destacant el percentatge de producció respecte al global");

const lx=d3.scalePoint().domain(legendLabels).range([487,1080]);
const lg=svg.append("g");
lg.selectAll("rect").data(binColors).join("rect").attr("x",(d,i)=>lx(legendLabels[i])).attr("y",780).attr("width",(d,i)=>lx(legendLabels[i+1])-lx(legendLabels[i])).attr("height",14).attr("fill",d=>d).attr("stroke","#fff").attr("stroke-width",0.8);
lg.selectAll("line").data(legendLabels).join("line").attr("x1",d=>lx(d)).attr("x2",d=>lx(d)).attr("y1",795).attr("y2",802).attr("stroke","#777").attr("stroke-width",1);
lg.selectAll("text").data(legendLabels).join("text").attr("x",d=>lx(d)).attr("y",823).attr("text-anchor","middle").style("font-size","19.5px").text(d=>d);

svg.append("defs").append("marker").attr("id","arrow").attr("markerUnits","userSpaceOnUse").attr("viewBox","-8 -6 10 12").attr("refX",0).attr("refY",0).attr("markerWidth",10).attr("markerHeight",12).attr("orient","auto").append("path").attr("d","M-7,-5L0,0L-7,5").attr("fill","none").attr("stroke","#333").attr("stroke-width",1.1);
svg.append("g").selectAll("path").data(leaderPaths).join("path").attr("d",d3.line()).attr("fill","none").attr("stroke","#444").attr("stroke-width",1).attr("marker-end","url(#arrow)");

const lab=svg.append("g").selectAll("g").data(labelNames).join("g").attr("transform",(d,i)=>`translate(${labelAnchors[i][0]},${labelAnchors[i][1]})`).attr("text-anchor","middle");
lab.append("text").attr("y",6).style("font-size","18px").style("fill",d=>labelLight.includes(d)?"#fff":"#222").text(d=>d);
lab.append("text").attr("y",29).style("font-size","21px").style("font-weight",700).style("fill",d=>labelLight.includes(d)?"#fff":"#1c1c1c").text((d,i)=>labelValues[i]);
svg.append("text").attr("x",1590).attr("y",832).attr("text-anchor","end").style("font-size","15.65px").text("Font: Our World in Data, FAO / Gràfic: M. Asín");
</script></body></html>
